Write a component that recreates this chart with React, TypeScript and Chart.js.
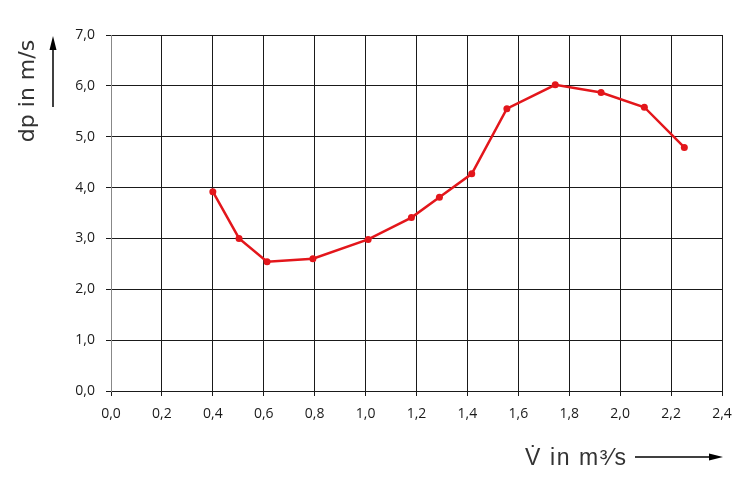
import React, { useEffect, useRef } from "react";
import { Chart, registerables } from "chart.js";

Chart.register(...registerables);

const flowRates = [0.4, 0.503, 0.613, 0.793, 1.01, 1.18, 1.29, 1.417, 1.555, 1.745, 1.925, 2.095, 2.252];
const pressures = [3.92, 3.0, 2.54, 2.6, 2.98, 3.41, 3.81, 4.27, 5.55, 6.02, 5.87, 5.58, 4.79];
const xTitle = "V\u0307 in m\u00B3\u2044s";
const yTitle = "dp in m/s";

const titlesPlugin = {
  id: "titlesArrows",
  afterDraw(chart: any) {
    const ctx = chart.ctx as any;
    ctx.save();
    ctx.fillStyle = "#333";
    ctx.strokeStyle = "#000";
    // Y title
    ctx.save();
    ctx.translate(34, 91);
    ctx.rotate(-Math.PI / 2);
    ctx.font = "22px 'DejaVu Sans'";
    ctx.textAlign = "center";
    ctx.textBaseline = "alphabetic";
    ctx.fillText(yTitle, 0, 0);
    ctx.restore();
    // Y arrow
    ctx.lineWidth = 1.5;
    ctx.beginPath();
    ctx.moveTo(53, 107);
    ctx.lineTo(53, 48);
    ctx.stroke();
    ctx.fillStyle = "#000";
    ctx.beginPath();
    ctx.moveTo(53, 36);
    ctx.lineTo(49.5, 50);
    ctx.lineTo(56.5, 50);
    ctx.closePath();
    ctx.fill();
    // X title
    ctx.fillStyle = "#333";
    ctx.font = "23px 'Liberation Sans'";
    ctx.textAlign = "left";
    try {
      ctx.letterSpacing = "1.6px";
    } catch (e) {}
    ctx.fillText(xTitle, 525, 465);
    try {
      ctx.letterSpacing = "0px";
    } catch (e) {}
    // X arrow
    ctx.beginPath();
    ctx.moveTo(635, 457);
    ctx.lineTo(712, 457);
    ctx.stroke();
    ctx.fillStyle = "#000";
    ctx.beginPath();
    ctx.moveTo(723, 457);
    ctx.lineTo(709, 453.5);
    ctx.lineTo(709, 460.5);
    ctx.closePath();
    ctx.fill();
    ctx.restore();
  },
};

export default function App() {
  const ref = useRef<HTMLCanvasElement | null>(null);
  useEffect(() => {
    document.body.style.margin = "0";
    const fmt = (v: any) => Number(v).toFixed(1).replace(".", ",");
    const chart = new Chart(ref.current as HTMLCanvasElement, {
      type: "line",
      data: {
        datasets: [
          {
            data: flowRates.map((x, i) => ({ x, y: pressures[i] })),
            borderColor: "#e3161b",
            backgroundColor: "#e3161b",
            borderWidth: 2.5,
            pointRadius: 3.5,
            pointBorderWidth: 0,
            tension: 0,
          },
        ],
      },
      options: {
        animation: false,
        responsive: false,
        maintainAspectRatio: false,
        layout: { padding: { left: 0, top: 35, right: 33, bottom: 0 } },
        plugins: { legend: { display: false }, tooltip: { enabled: false } },
        scales: {
          x: {
            type: "linear",
            min: 0,
            max: 2.4,
            afterFit: (s: any) => {
              s.height = 97;
            },
            ticks: {
              stepSize: 0.2,
              callback: fmt,
              color: "#1a1a1a",
              font: { family: "'Open Sans'", size: 14 },
              padding: 10,
              maxRotation: 0,
            },
            grid: { color: "#1a1a1a", lineWidth: 1, tickLength: 5, drawTicks: true },
            border: { color: "#1a1a1a", width: 1 },
          },
          y: {
            type: "linear",
            min: 0,
            max: 7,
            afterFit: (s: any) => {
              s.width = 111;
            },
            ticks: {
              stepSize: 1,
              callback: fmt,
              color: "#1a1a1a",
              font: { family: "'Open Sans'", size: 14 },
              padding: 11,
            },
            grid: { color: "#1a1a1a", lineWidth: 1, tickLength: 5 },
            border: { color: "#888", width: 1 },
          },
        },
      },
      plugins: [titlesPlugin],
    } as any);
    return () => chart.destroy();
  }, []);
  return (
    <div style={{ width: 755, height: 488 }}>
      <canvas ref={ref} width={755} height={488} style={{ display: "block" }} />
    </div>
  );
}
